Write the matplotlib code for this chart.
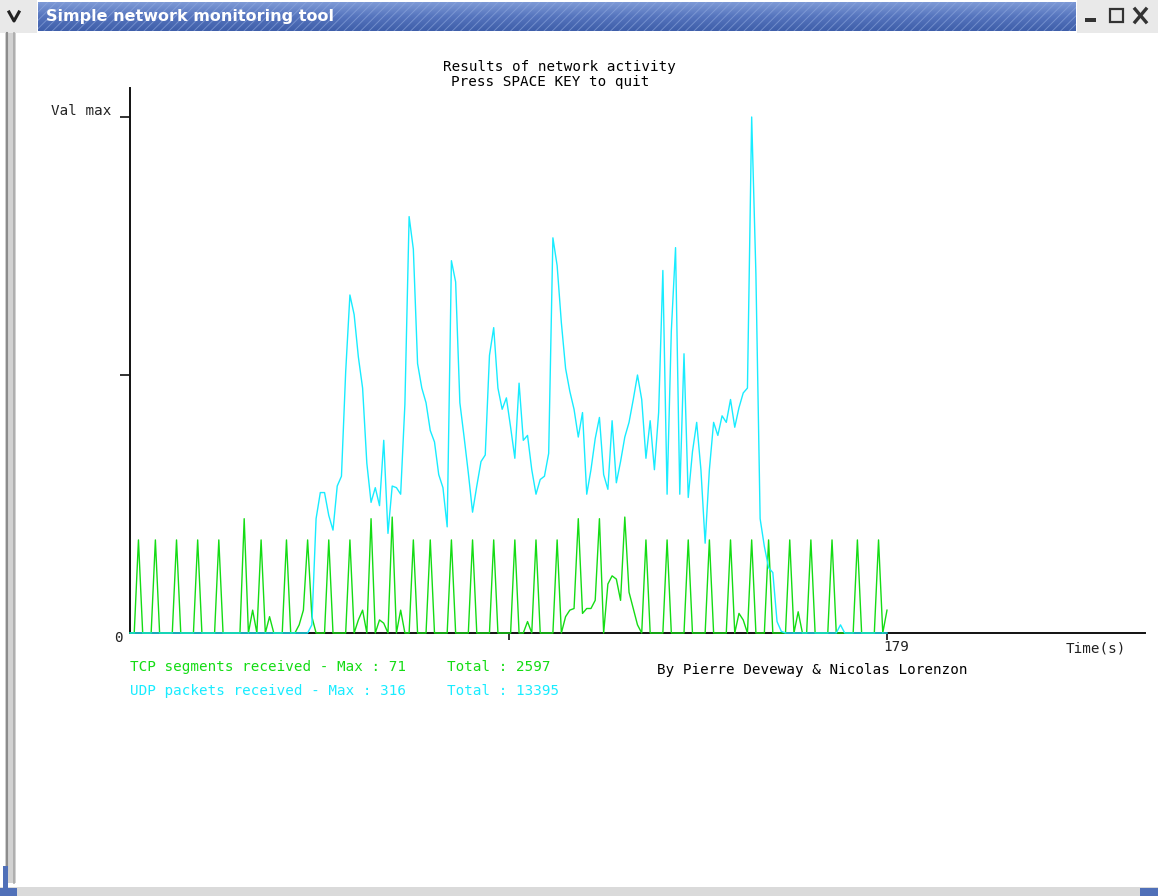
import numpy as np
import matplotlib.pyplot as plt
from matplotlib.patches import Rectangle

# ---- data: one sample per second ----
seconds = np.arange(180)

tcp = [0, 0, 57, 0, 0, 0, 57, 0, 0, 0,
       0, 57, 0, 0, 0, 0, 57, 0, 0, 0,
       0, 57, 0, 0, 0, 0, 0, 70, 0, 14,
       0, 57, 0, 10, 0, 0, 0, 57, 0, 0,
       5, 14, 57, 10, 0, 0, 0, 57, 0, 0,
       0, 0, 57, 0, 8, 14, 0, 70, 0, 8,
       6, 0, 71, 0, 14, 0, 0, 57, 0, 0,
       0, 57, 0, 0, 0, 0, 57, 0, 0, 0,
       0, 57, 0, 0, 0, 0, 57, 0, 0, 0,
       0, 57, 0, 0, 7, 0, 57, 0, 0, 0,
       0, 57, 0, 10, 14, 15, 70, 12, 15, 15,
       20, 70, 0, 30, 35, 33, 20, 71, 25, 15,
       5, 0, 57, 0, 0, 0, 0, 57, 0, 0,
       0, 0, 57, 0, 0, 0, 0, 57, 0, 0,
       0, 0, 57, 0, 12, 8, 0, 57, 0, 0,
       0, 57, 0, 0, 0, 0, 57, 0, 13, 0,
       0, 57, 0, 0, 0, 0, 57, 0, 0, 0,
       0, 0, 57, 0, 0, 0, 0, 57, 0, 14]

udp = [0] * 43 + [
    5, 70, 86, 86, 72, 63, 90, 96,
    160, 207, 195, 169, 150, 104, 80, 89, 78, 118,
    61, 90, 89, 85, 140, 255, 235, 165, 150, 141,
    124, 117, 97, 89, 65, 228, 215, 141, 120, 98,
    74, 90, 105, 109, 170, 187, 150, 137, 144, 126,
    107, 153, 118, 121, 100, 85, 94, 96, 110, 242,
    225, 190, 162, 148, 137, 120, 135, 85, 100, 119,
    132, 97, 88, 130, 92, 105, 120, 129, 143, 158,
    143, 107, 130, 100, 135, 222, 85, 185, 236, 85,
    171, 83, 111, 129, 100, 55, 100, 129, 121, 133,
    129, 143, 126, 138, 147, 150, 316, 220, 70, 53,
    40, 37, 7, 1] + [0] * 13 + [5] + [0] * 11

duration = 179
tcp_max, udp_max = 71, 316
tcp_total, udp_total = 2597, 13395

GREEN = '#14dc14'
CYAN = '#18ecff'
W, H = 1158, 896

fig = plt.figure(figsize=(W / 100, H / 100), dpi=100)
fig.patch.set_facecolor('white')

# pixel canvas for the window frame and the loose text
frame = fig.add_axes([0, 0, 1, 1])
frame.set_xlim(0, W)
frame.set_ylim(H, 0)
frame.axis('off')

# title bar
grad = np.linspace(0, 1, 30).reshape(-1, 1)
frame.imshow(grad, extent=[38, 1076, 31, 2], cmap=plt.cm.colors.LinearSegmentedColormap.from_list(
    'bar', ['#7d99d6', '#5574bd', '#3f5faa']), aspect='auto', zorder=1)
plt.rcParams['hatch.linewidth'] = 0.7
frame.add_patch(Rectangle((38, 2), 1038, 29, fc='none', ec='#90a9de', hatch='////', lw=0, alpha=0.6, zorder=2))
frame.text(46, 17, 'Simple network monitoring tool', color='white', fontsize=11.5,
           fontweight='bold', family='DejaVu Sans', va='center', ha='left', zorder=3)

# window buttons
frame.add_patch(Rectangle((0, 0), 37, 33, fc='#e9e9e9', ec='none', zorder=1))
frame.plot([9, 14, 19], [12, 21, 12], color='#222222', lw=2.2, zorder=3)
frame.add_patch(Rectangle((1077, 0), 81, 33, fc='#e9e9e9', ec='none', zorder=1))
frame.add_patch(Rectangle((1085, 18), 11, 4, fc='#333333', ec='none', zorder=3))
frame.add_patch(Rectangle((1110, 9), 13, 13, fc='none', ec='#333333', lw=1.6, zorder=3))
frame.plot([1135, 1146], [9, 22], color='#333333', lw=2.4, zorder=3)
frame.plot([1146, 1135], [9, 22], color='#333333', lw=2.4, zorder=3)

# left border and bottom edge
frame.add_patch(Rectangle((5, 33), 11, 850, fc='#d2d2d2', ec='none', zorder=1))
frame.plot([7, 7], [33, 870], color='#8c8c8c', lw=1.5, zorder=2)
frame.plot([14, 14], [33, 883], color='#a8a8a8', lw=1.2, zorder=2)
frame.add_patch(Rectangle((3, 866), 5, 30, fc='#5070b8', ec='none', zorder=2))
frame.add_patch(Rectangle((0, 887), W, 9, fc='#dadada', ec='none', zorder=1))
frame.add_patch(Rectangle((0, 888), 17, 8, fc='#5070b8', ec='none', zorder=2))
frame.add_patch(Rectangle((1140, 888), 18, 8, fc='#5070b8', ec='none', zorder=2))

# ---- chart ----
x0, x_end, x179 = 130, 1145, 887
y0, y_top, ymax_px = 633, 88, 117
ax = fig.add_axes([x0 / W, 1 - y0 / H, (x_end - x0) / W, (y0 - y_top) / H])
ax.set_facecolor('none')
ax.set_xlim(0, duration * (x_end - x0) / (x179 - x0))
ax.set_ylim(0, udp_max * (y0 - y_top) / (y0 - ymax_px))

ax.plot(seconds, tcp, color=GREEN, lw=1.0, zorder=3, clip_on=False)
ax.plot(seconds, udp, color=CYAN, lw=1.0, zorder=4, clip_on=False)

for s in ['top', 'right']:
    ax.spines[s].set_visible(False)
for s in ['left', 'bottom']:
    ax.spines[s].set_linewidth(1.4)
    ax.spines[s].set_color('#111111')
    ax.spines[s].set_zorder(2)
ax.set_xticks([duration / 2, duration])
ax.set_xticklabels([])
ax.set_yticks([udp_max / 2, udp_max])
ax.set_yticklabels([])
ax.tick_params(axis='x', length=5, width=1.2, color='#111111')
ax.tick_params(axis='y', length=7, width=1.2, color='#111111')

mono = dict(family='DejaVu Sans Mono', fontsize=10.3, va='center')
frame.text(559, 67, 'Results of network activity', ha='center', color='black', **mono)
frame.text(550, 82, 'Press SPACE KEY to quit', ha='center', color='black', **mono)
frame.text(51, 111, 'Val max', ha='left', color='#222222', **mono)
frame.text(118, 638, '0', ha='center', color='#222222', **mono)
frame.text(883, 647, str(duration), ha='left', color='#222222', **mono)
frame.text(1066, 648, 'Time(s)', ha='left', color='#222222', **mono)

frame.text(130, 667, f'TCP segments received - Max : {tcp_max}', ha='left', color=GREEN, **mono)
frame.text(447, 667, f'Total : {tcp_total}', ha='left', color=GREEN, **mono)
frame.text(130, 691, f'UDP packets received - Max : {udp_max}', ha='left', color=CYAN, **mono)
frame.text(447, 691, f'Total : {udp_total}', ha='left', color=CYAN, **mono)
frame.text(657, 670, 'By Pierre Deveway & Nicolas Lorenzon', ha='left', color='black', **mono)

fig.savefig('out.png', dpi=100)
